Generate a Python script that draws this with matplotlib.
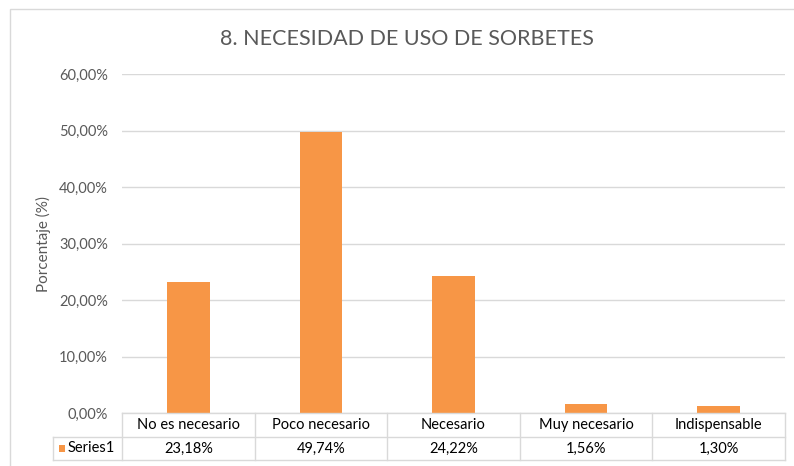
import matplotlib
matplotlib.use("Agg")
import matplotlib.pyplot as plt
from matplotlib.patches import Rectangle
from matplotlib.lines import Line2D

plt.rcParams['font.family'] = ['Lato', 'DejaVu Sans']

categories = ["No es necesario", "Poco necesario", "Necesario", "Muy necesario", "Indispensable"]
values = [23.18, 49.74, 24.22, 1.56, 1.30]
value_labels = ["23,18%", "49,74%", "24,22%", "1,56%", "1,30%"]
series_name = "Series1"
title = "8. NECESIDAD DE USO DE SORBETES"
ylabel = "Porcentaje (%)"
yticks = [0, 10, 20, 30, 40, 50, 60]
ytick_labels = ["0,00%", "10,00%", "20,00%", "30,00%", "40,00%", "50,00%", "60,00%"]

W, H = 794, 466
fig = plt.figure(figsize=(W / 100, H / 100), dpi=100)
fig.patch.set_facecolor("white")

bar_color = "#F79646"
text_color = "#595959"
grid_color = "#D9D9D9"

# chart border
fig.add_artist(Rectangle((10 / W, 1 - 470 / H), 800 / W, 461 / H, transform=fig.transFigure,
                         fill=False, edgecolor="#D9D9D9", linewidth=1.0))

left, right = 122 / W, 785 / W
bottom, top = 1 - 413 / H, 1 - 74 / H
ax = fig.add_axes([left, bottom, right - left, top - bottom])

x = list(range(len(categories)))
ax.bar(x, values, width=0.32, color=bar_color, zorder=3)
ax.set_xlim(-0.5, len(categories) - 0.5)
ax.set_ylim(0, 60)
ax.set_yticks(yticks)
ax.set_yticklabels(ytick_labels, color=text_color, fontsize=10.5)
ax.tick_params(axis='y', length=0, pad=10)
ax.set_xticks([])
ax.grid(axis='y', color=grid_color, linewidth=1.0, zorder=0)
for s in ax.spines.values():
    s.set_visible(False)
ax.set_ylabel(ylabel, color=text_color, fontsize=11, labelpad=6)

fig.text(407 / W, 1 - 39 / H, title, ha="center", va="center", fontsize=15.5, color=text_color)

# data table (figure pixel coords)
def fx(px):
    return px / W

def fy(py):
    return 1 - py / H

row1_top, row_mid, row_bot = 413, 437, 460
cell_left = 53
col_edges = [122 + i * (785 - 122) / len(categories) for i in range(len(categories) + 1)]

lines = []
lines.append(((col_edges[0], col_edges[-1]), (row1_top, row1_top)))
lines.append(((cell_left, col_edges[-1]), (row_mid, row_mid)))
lines.append(((cell_left, col_edges[-1]), (row_bot, row_bot)))
for i, cx in enumerate(col_edges):
    lines.append(((cx, cx), (row1_top, row_bot)))
lines.append(((cell_left, cell_left), (row_mid, row_bot)))
for (xs, ys) in lines:
    fig.add_artist(Line2D([fx(xs[0]), fx(xs[1])], [fy(ys[0]), fy(ys[1])],
                          transform=fig.transFigure, color=grid_color, linewidth=1.0))

for i, cat in enumerate(categories):
    cx = (col_edges[i] + col_edges[i + 1]) / 2
    fig.text(fx(cx), fy((row1_top + row_mid) / 2), cat, ha="center", va="center",
             fontsize=10.5, color="black")
    fig.text(fx(cx), fy((row_mid + row_bot) / 2), value_labels[i], ha="center", va="center",
             fontsize=10.5, color="black")

# legend key in table
fig.add_artist(Rectangle((fx(59), fy(452)), 6 / W, 7 / H, transform=fig.transFigure,
                         facecolor=bar_color, edgecolor="none"))
fig.text(fx(68), fy((row_mid + row_bot) / 2), series_name, ha="left", va="center",
         fontsize=10.5, color="black")

fig.savefig("out.png", dpi=100)
